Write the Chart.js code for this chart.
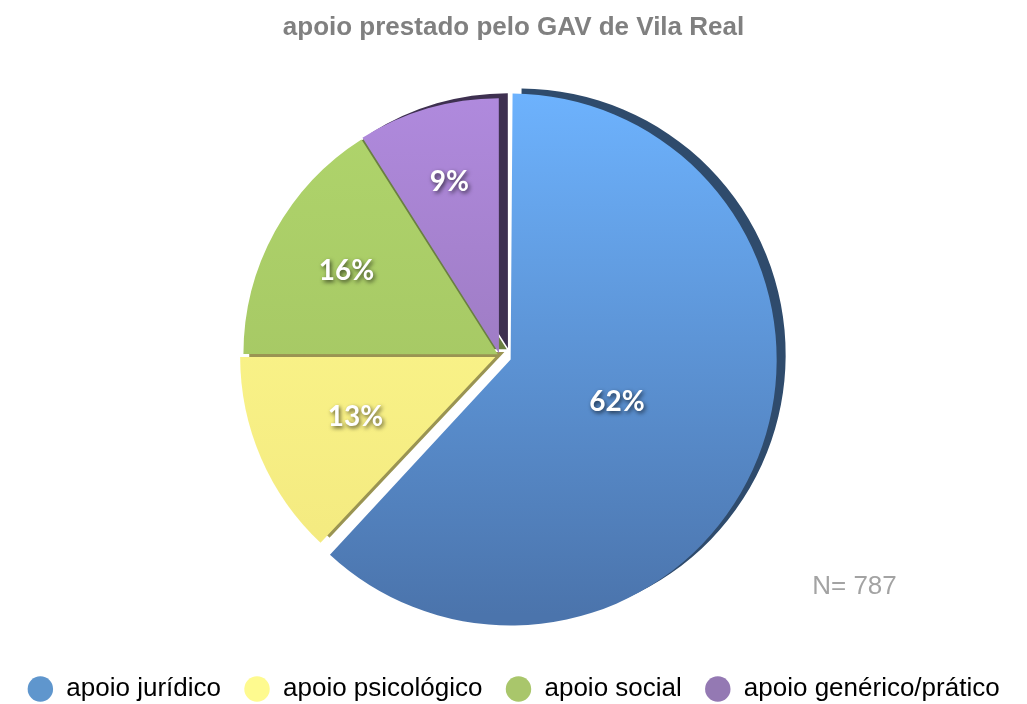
<!DOCTYPE html>
<html>
<head>
  <meta charset="UTF-8">
  <title>apoio prestado pelo GAV de Vila Real</title>
  <script src="https://cdn.jsdelivr.net/npm/chart.js@4.4.1/dist/chart.umd.min.js"></script>
  <style>
    html, body { margin: 0; padding: 0; background: #fff; }
    #wrap { width: 1027px; height: 704px; }
  </style>
</head>
<body>
<div id="wrap"><canvas id="myChart"></canvas></div>
<script>
  // dados (percentagens)
  var categorias = ["apoio jurídico", "apoio psicológico", "apoio social", "apoio genérico/prático"];
  var valores = [62, 13, 16, 9];
  var totalN = 787;

  // cores: topo / base do gradiente, cor do lado 3D, cor da legenda
  var corTopo  = ["#6db2fd", "#fffb90", "#b0d56c", "#b08ade"];
  var corBase  = ["#4b74ac", "#f2e87e", "#9fbf5f", "#8f70ad"];
  var corLado  = ["#2f4b6c", "#9a9452", "#6a7f41", "#3e3050"];
  var corLegenda = ["#5f96cd", "#fefa8f", "#a9c66b", "#9479b3"];
  var desvios = [48, 18, 8, 8];
  var posRotulo = [0.45, 0.6, 0.68, 0.7];

  function gradiente(ctx) {
    var chart = ctx.chart;
    var area = chart.chartArea;
    if (!area) return corLegenda[ctx.dataIndex];
    var cy = (area.top + area.bottom) / 2;
    var g = chart.ctx.createLinearGradient(0, cy - 265, 0, cy + 255);
    g.addColorStop(0, corTopo[ctx.dataIndex]);
    g.addColorStop(1, corBase[ctx.dataIndex]);
    return g;
  }

  // desloca a área do gráfico um pouco para a esquerda (a legenda fica centrada)
  var deslocar = {
    id: "deslocar",
    afterLayout: function(chart) {
      chart.chartArea.left -= 14;
      chart.chartArea.right -= 14;
    }
  };

  // desenha o "lado" escuro de cada fatia, deslocado para cima/direita
  var lado3d = {
    id: "lado3d",
    beforeDatasetsDraw: function(chart) {
      var ctx = chart.ctx;
      var meta = chart.getDatasetMeta(0);
      meta.data.forEach(function(el, i) {
        var orig = el.options;
        el.options = Object.assign({}, orig, { backgroundColor: corLado[i], borderWidth: 0 });
        ctx.save();
        ctx.translate(9, -5);
        el.draw(ctx);
        ctx.restore();
        el.options = orig;
      });
    }
  };

  var rotulos = {
    id: "rotulos",
    afterDatasetsDraw: function(chart) {
      var ctx = chart.ctx;
      var meta = chart.getDatasetMeta(0);
      ctx.save();
      ctx.font = "bold 28px Lato";
      ctx.textAlign = "center";
      ctx.textBaseline = "middle";
      ctx.fillStyle = "#ffffff";
      ctx.shadowColor = "rgba(0,0,0,0.65)";
      ctx.shadowBlur = 4;
      ctx.shadowOffsetX = 1.5;
      ctx.shadowOffsetY = 2;
      meta.data.forEach(function(el, i) {
        var p = el.getProps(["x", "y", "startAngle", "endAngle", "outerRadius"], true);
        var a = (p.startAngle + p.endAngle) / 2;
        var d = desvios[i] / 4;
        var r = p.outerRadius * posRotulo[i] + d;
        ctx.fillText(valores[i] + "%", p.x + Math.cos(a) * r, p.y + Math.sin(a) * r);
      });
      ctx.restore();

      var c = meta.data[0];
      ctx.save();
      ctx.font = "26px 'Liberation Sans'";
      ctx.fillStyle = "#a3a3a3";
      ctx.textAlign = "center";
      ctx.textBaseline = "middle";
      ctx.fillText("N= " + totalN, c.x + 355, c.y + 232);
      ctx.restore();
    }
  };

  new Chart(document.getElementById("myChart"), {
    type: "pie",
    data: {
      labels: categorias,
      datasets: [{
        data: valores,
        backgroundColor: gradiente,
        borderWidth: 0,
        offset: desvios,
        radius: 254
      }]
    },
    options: {
      responsive: true,
      maintainAspectRatio: false,
      animation: false,
      layout: { padding: { top: 0, right: 0, bottom: -8, left: 0 } },
      plugins: {
        title: {
          display: true,
          text: "apoio prestado pelo GAV de Vila Real",
          color: "#808080",
          font: { family: "'Liberation Sans'", size: 26, weight: "bold" },
          padding: { top: 12, bottom: 14 }
        },
        legend: {
          position: "bottom",
          labels: {
            usePointStyle: true,
            pointStyle: "circle",
            boxHeight: 18,
            color: "#1e1e1e",
            font: { family: "'Liberation Sans'", size: 26 },
            padding: 23,
            generateLabels: function(chart) {
              return categorias.map(function(c, i) {
                return { text: c, fillStyle: corLegenda[i], strokeStyle: corLegenda[i], lineWidth: 0, pointStyle: "circle", index: i, hidden: false };
              });
            }
          }
        },
        tooltip: { enabled: false }
      }
    },
    plugins: [deslocar, lado3d, rotulos]
  });
</script>
</body>
</html>
